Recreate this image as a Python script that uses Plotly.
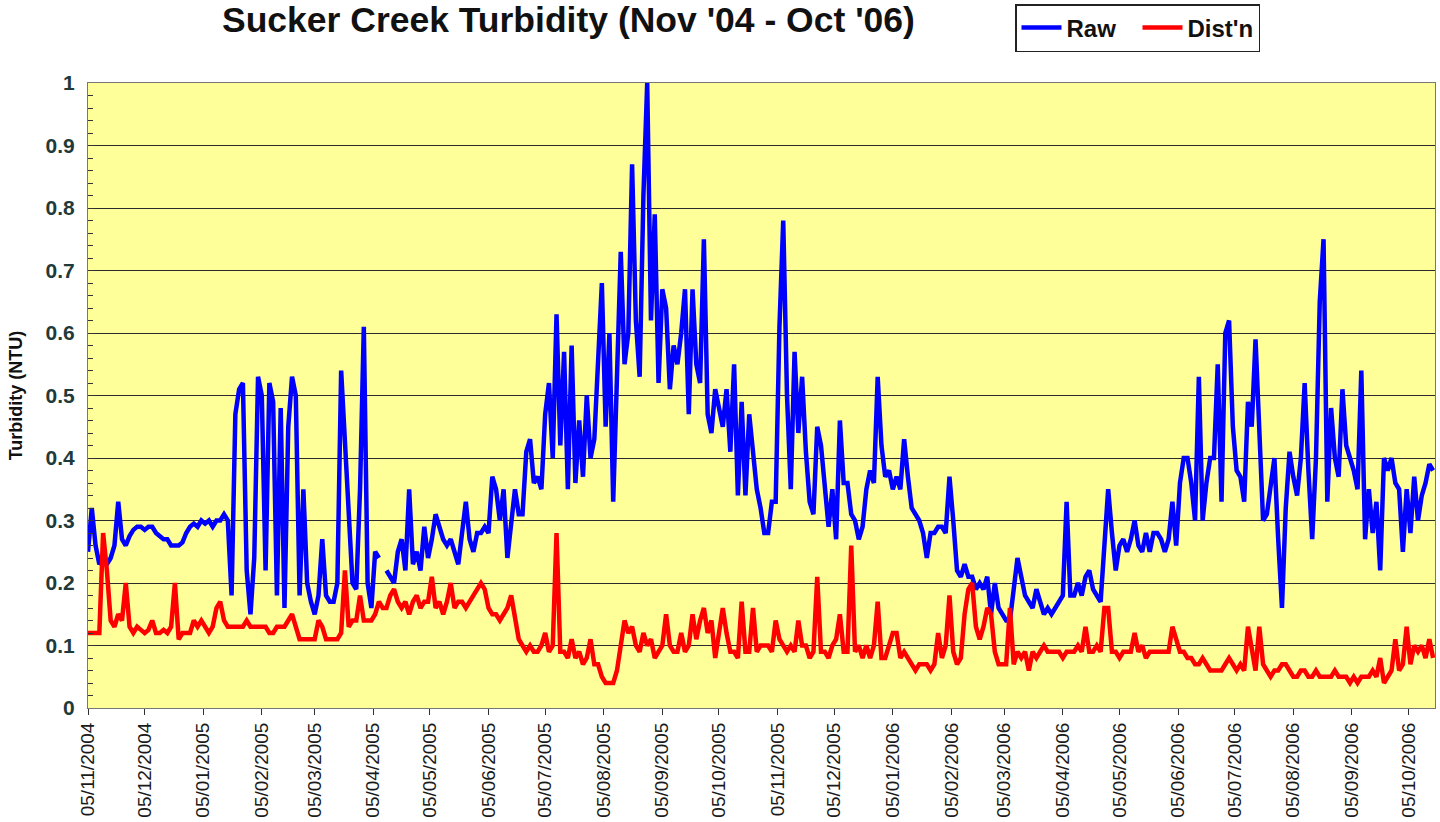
import pandas as pd
import plotly.graph_objects as go

# ---------------- data (one every 2 days) -------------
start_date = "2004-11-05"
step_days = 2

raw_ntu = [
    0.25, 0.32, 0.26, 0.23, 0.24, 0.23, 0.24, 0.26, 0.33, 0.27,
    0.26, 0.275, 0.285, 0.29, 0.29, 0.285, 0.29, 0.29, 0.28, 0.275,
    0.27, 0.27, 0.26, 0.26, 0.26, 0.265, 0.28, 0.29, 0.295, 0.29,
    0.30, 0.295, 0.30, 0.29, 0.30, 0.30, 0.31, 0.30, 0.18, 0.47,
    0.51, 0.52, 0.22, 0.15, 0.24, 0.53, 0.50, 0.22, 0.52, 0.49,
    0.18, 0.48, 0.16, 0.45, 0.53, 0.50, 0.18, 0.35, 0.20, 0.17,
    0.15, 0.18, 0.27, 0.18, 0.17, 0.17, 0.20, 0.54, 0.43, 0.29,
    0.20, 0.19, 0.35, 0.61, 0.20, 0.16, 0.25, 0.24, None, 0.22,
    0.21, 0.20, 0.25, 0.27, 0.22, 0.35, 0.23, 0.25, 0.22, 0.29,
    0.24, 0.27, 0.31, 0.29, 0.27, 0.26, 0.27, 0.25, 0.23, 0.28,
    0.33, 0.27, 0.25, 0.28, 0.28, 0.29, 0.28, 0.37, 0.35, 0.30,
    0.35, 0.24, 0.29, 0.35, 0.31, 0.31, 0.41, 0.43, 0.36, 0.37,
    0.35, 0.47, 0.52, 0.40, 0.63, 0.42, 0.57, 0.35, 0.58, 0.36,
    0.46, 0.37, 0.50, 0.40, 0.43, 0.55, 0.68, 0.45, 0.60, 0.33,
    0.55, 0.73, 0.55, 0.60, 0.87, 0.62, 0.53, 0.82, 1.00, 0.62,
    0.79, 0.52, 0.67, 0.64, 0.51, 0.58, 0.55, 0.60, 0.67, 0.47,
    0.67, 0.55, 0.52, 0.75, 0.47, 0.44, 0.51, 0.48, 0.45, 0.51,
    0.41, 0.55, 0.34, 0.49, 0.34, 0.47, 0.40, 0.35, 0.32, 0.28,
    0.28, 0.33, 0.33, 0.61, 0.78, 0.50, 0.35, 0.57, 0.44, 0.53,
    0.41, 0.33, 0.31, 0.45, 0.42, 0.35, 0.29, 0.35, 0.27, 0.46,
    0.36, 0.36, 0.31, 0.30, 0.27, 0.29, 0.35, 0.38, 0.36, 0.53,
    0.42, 0.37, 0.38, 0.35, 0.37, 0.35, 0.43, 0.37, 0.32, 0.31,
    0.30, 0.28, 0.24, 0.28, 0.28, 0.29, 0.29, 0.28, 0.37, 0.30,
    0.22, 0.21, 0.23, 0.21, 0.21, 0.19, 0.20, 0.19, 0.21, 0.15,
    0.20, 0.16, 0.15, 0.14, 0.14, 0.19, 0.24, 0.21, 0.18, 0.17,
    0.16, 0.19, 0.17, 0.15, 0.16, 0.15, 0.16, 0.17, 0.18, 0.33,
    0.18, 0.18, 0.20, 0.18, 0.21, 0.22, 0.19, 0.18, 0.17, 0.26,
    0.35, 0.28, 0.22, 0.26, 0.27, 0.25, 0.27, 0.30, 0.26, 0.25,
    0.28, 0.25, 0.28, 0.28, 0.27, 0.25, 0.27, 0.33, 0.26, 0.36,
    0.40, 0.40, 0.36, 0.30, 0.53, 0.30, 0.36, 0.40, 0.40, 0.55,
    0.33, 0.60, 0.62, 0.45, 0.38, 0.37, 0.33, 0.49, 0.45, 0.59,
    0.45, 0.30, 0.31, 0.35, 0.40, 0.27, 0.16, 0.32, 0.41, 0.37,
    0.34, 0.40, 0.52, 0.38, 0.27, 0.40, 0.65, 0.75, 0.33, 0.48,
    0.40, 0.37, 0.51, 0.42, 0.40, 0.38, 0.35, 0.54, 0.27, 0.35,
    0.28, 0.33, 0.22, 0.40, 0.38, 0.40, 0.36, 0.35, 0.25, 0.35,
    0.28, 0.37, 0.30, 0.34, 0.36, 0.39, 0.38,
]

distn_ntu = [
    0.12, 0.12, 0.12, 0.12, 0.28, 0.22, 0.14, 0.13, 0.15, 0.14,
    0.20, 0.13, 0.12, 0.13, 0.125, 0.12, 0.125, 0.14, 0.12, 0.12,
    0.125, 0.12, 0.13, 0.20, 0.11, 0.12, 0.12, 0.12, 0.14, 0.13,
    0.14, 0.13, 0.12, 0.13, 0.16, 0.17, 0.14, 0.13, 0.13, 0.13,
    0.13, 0.13, 0.14, 0.13, 0.13, 0.13, 0.13, 0.13, 0.12, 0.12,
    0.13, 0.13, 0.13, 0.14, 0.15, 0.13, 0.11, 0.11, 0.11, 0.11,
    0.11, 0.14, 0.13, 0.11, 0.11, 0.11, 0.11, 0.12, 0.22, 0.13,
    0.14, 0.14, 0.18, 0.14, 0.14, 0.14, 0.15, 0.17, 0.16, 0.16,
    0.18, 0.19, 0.17, 0.16, 0.17, 0.15, 0.17, 0.18, 0.16, 0.17,
    0.17, 0.21, 0.16, 0.17, 0.15, 0.17, 0.20, 0.16, 0.17, 0.17,
    0.16, 0.17, 0.18, 0.19, 0.20, 0.19, 0.16, 0.15, 0.15, 0.14,
    0.15, 0.16, 0.18, 0.14, 0.11, 0.10, 0.09, 0.10, 0.09, 0.09,
    0.10, 0.12, 0.09, 0.10, 0.28, 0.09, 0.09, 0.08, 0.11, 0.08,
    0.09, 0.07, 0.08, 0.11, 0.07, 0.07, 0.05, 0.04, 0.04, 0.04,
    0.06, 0.10, 0.14, 0.12, 0.13, 0.10, 0.09, 0.12, 0.10, 0.11,
    0.08, 0.09, 0.10, 0.15, 0.10, 0.09, 0.09, 0.12, 0.09, 0.10,
    0.15, 0.11, 0.14, 0.16, 0.12, 0.14, 0.08, 0.12, 0.16, 0.12,
    0.09, 0.09, 0.08, 0.17, 0.09, 0.09, 0.16, 0.09, 0.10, 0.10,
    0.10, 0.09, 0.14, 0.11, 0.10, 0.09, 0.10, 0.09, 0.14, 0.10,
    0.10, 0.08, 0.09, 0.21, 0.09, 0.09, 0.08, 0.10, 0.11, 0.15,
    0.09, 0.09, 0.26, 0.09, 0.10, 0.08, 0.10, 0.08, 0.10, 0.17,
    0.08, 0.08, 0.10, 0.12, 0.12, 0.08, 0.09, 0.08, 0.07, 0.06,
    0.07, 0.07, 0.07, 0.06, 0.07, 0.12, 0.08, 0.10, 0.18, 0.09,
    0.07, 0.08, 0.15, 0.19, 0.20, 0.13, 0.11, 0.13, 0.16, 0.15,
    0.09, 0.07, 0.07, 0.07, 0.16, 0.07, 0.09, 0.08, 0.09, 0.06,
    0.09, 0.08, 0.09, 0.10, 0.09, 0.09, 0.09, 0.09, 0.08, 0.09,
    0.09, 0.09, 0.10, 0.09, 0.13, 0.09, 0.09, 0.10, 0.09, 0.16,
    0.16, 0.09, 0.09, 0.08, 0.09, 0.09, 0.09, 0.12, 0.09, 0.10,
    0.08, 0.09, 0.09, 0.09, 0.09, 0.09, 0.09, 0.13, 0.11, 0.09,
    0.09, 0.08, 0.08, 0.07, 0.07, 0.08, 0.07, 0.06, 0.06, 0.06,
    0.06, 0.07, 0.08, 0.07, 0.06, 0.07, 0.06, 0.13, 0.09, 0.06,
    0.13, 0.07, 0.06, 0.05, 0.06, 0.06, 0.07, 0.07, 0.06, 0.05,
    0.05, 0.06, 0.06, 0.05, 0.05, 0.06, 0.05, 0.05, 0.05, 0.05,
    0.06, 0.05, 0.05, 0.05, 0.04, 0.05, 0.04, 0.05, 0.05, 0.05,
    0.06, 0.05, 0.08, 0.04, 0.05, 0.06, 0.11, 0.06, 0.07, 0.13,
    0.07, 0.10, 0.09, 0.10, 0.08, 0.11, 0.08,
]

tick_dates = [
    "2004-11-05", "2004-12-05", "2005-01-05", "2005-02-05", "2005-03-05",
    "2005-04-05", "2005-05-05", "2005-06-05", "2005-07-05", "2005-08-05",
    "2005-09-05", "2005-10-05", "2005-11-05", "2005-12-05", "2006-01-05",
    "2006-02-05", "2006-03-05", "2006-04-05", "2006-05-05", "2006-06-05",
    "2006-07-05", "2006-08-05", "2006-09-05", "2006-10-05",
]
tick_labels = [
    "05/11/2004", "05/12/2004", "05/01/2005", "05/02/2005", "05/03/2005",
    "05/04/2005", "05/05/2005", "05/06/2005", "05/07/2005", "05/08/2005",
    "05/09/2005", "05/10/2005", "05/11/2005", "05/12/2005", "05/01/2006",
    "05/02/2006", "05/03/2006", "05/04/2006", "05/05/2006", "05/06/2006",
    "05/07/2006", "05/08/2006", "05/09/2006", "05/10/2006",
]

x_start = "2004-11-05"
x_end = "2006-10-19"

dates = pd.date_range(start=start_date, periods=len(raw_ntu), freq=f"{step_days}D")

FONT = "Liberation Sans, Arial, sans-serif"

fig = go.Figure()
fig.add_trace(go.Scatter(
    x=dates, y=raw_ntu, name="Raw", mode="lines",
    line=dict(color="#0000FF", width=4.5), connectgaps=False,
))
fig.add_trace(go.Scatter(
    x=dates, y=distn_ntu, name="Dist'n", mode="lines",
    line=dict(color="#FF0000", width=4.5),
))

fig.update_layout(
    width=1440, height=822,
    paper_bgcolor="white",
    plot_bgcolor="#FFFF99",
    margin=dict(l=88, r=5, t=82, b=114),
    font=dict(family=FONT, color="#111111"),
    title=dict(
        text="<b>Sucker Creek Turbidity (Nov '04 - Oct '06)</b>",
        x=222 / 1440, xanchor="left", xref="container",
        y=1 - 20 / 822, yanchor="middle", yref="container",
        font=dict(size=35.5, family=FONT, color="#111111"),
    ),
    showlegend=True,
    legend=dict(
        orientation="h",
        x=(1015 - 88) / 1347, xanchor="left",
        y=1 + (82 - 4) / 626, yanchor="top",
        bgcolor="white", bordercolor="#222222", borderwidth=1.5,
        font=dict(size=24, family=FONT, color="#111111", weight="bold"),
        entrywidth=66, entrywidthmode="pixels",
        itemwidth=40, tracegroupgap=0,
    ),
)

fig.update_xaxes(
    type="date",
    range=[x_start, x_end],
    tickmode="array", tickvals=tick_dates, ticktext=tick_labels,
    tickangle=-90,
    tickfont=dict(size=19, family=FONT, color="#1a1a1a"),
    ticks="outside", ticklen=6, tickcolor="#333333",
    showgrid=False, zeroline=False,
    showline=True, linecolor="#777777", linewidth=1, mirror=True,
)
fig.update_yaxes(
    range=[0, 1], dtick=0.1, tick0=0,
    tickfont=dict(size=21, family=FONT, color="#1f3a3a", weight="bold"),
    ticks="inside", ticklen=6, tickcolor="#333333",
    ticklabelstandoff=8,
    minor=dict(ticks="inside", ticklen=5, dtick=0.02, tickcolor="#333333", showgrid=False),
    showgrid=True, gridcolor="#2b2b2b", gridwidth=1,
    zeroline=False,
    showline=True, linecolor="#777777", linewidth=1, mirror=True,
    title=dict(text="<b>Turbidity (NTU)</b>", standoff=18,
               font=dict(size=18, family=FONT, color="#111111")),
)

fig.write_html(
    "out.html",
    config={"displayModeBar": False},
    post_script="document.body.style.margin='0';document.body.style.overflow='hidden';",
)
